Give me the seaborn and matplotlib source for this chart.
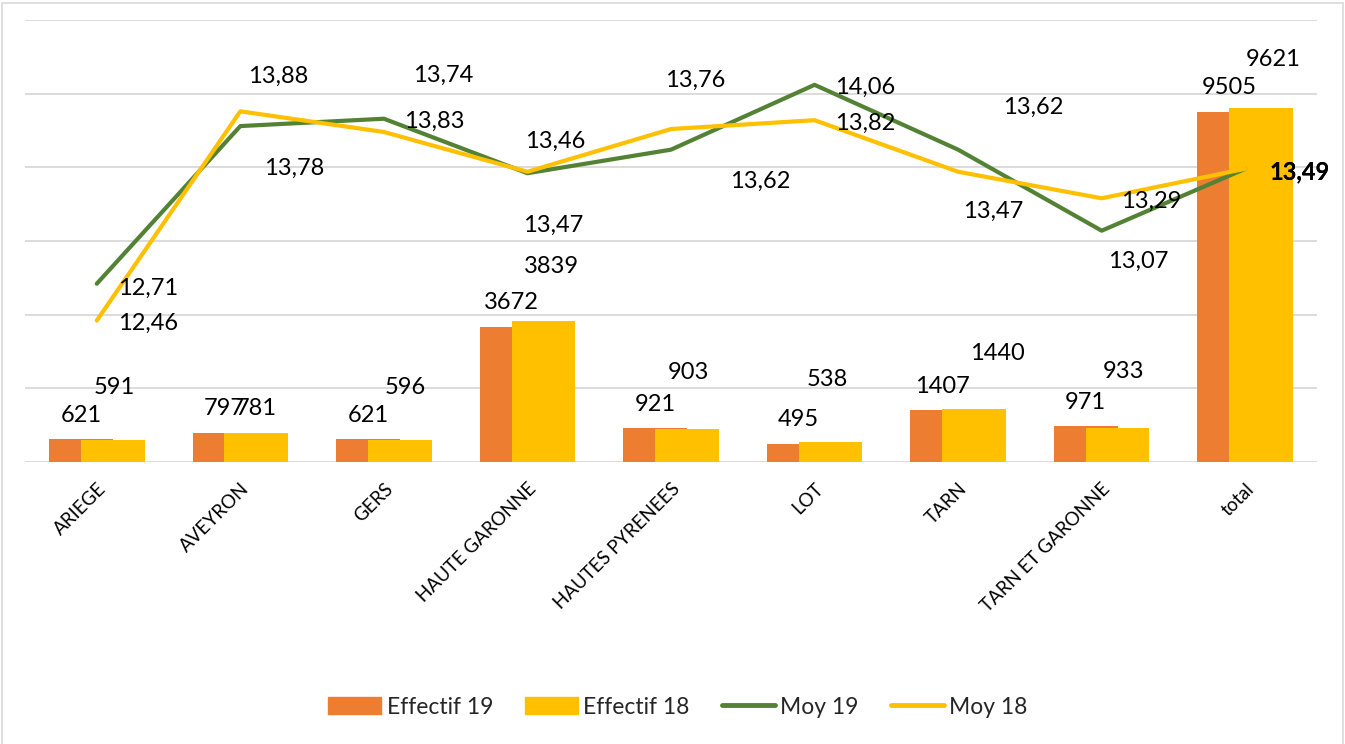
import numpy as np
import pandas as pd
import matplotlib.pyplot as plt
import seaborn as sns
from matplotlib.patches import Patch, Rectangle
from matplotlib.lines import Line2D

# Data
departements = ["ARIEGE", "AVEYRON", "GERS", "HAUTE GARONNE", "HAUTES PYRENEES",
                "LOT", "TARN", "TARN ET GARONNE", "total"]
effectif_19 = [621, 797, 621, 3672, 921, 495, 1407, 971, 9505]
effectif_18 = [591, 781, 596, 3839, 903, 538, 1440, 933, 9621]
moy_19 = [12.71, 13.78, 13.83, 13.46, 13.62, 14.06, 13.62, 13.07, 13.49]
moy_18 = [12.46, 13.88, 13.74, 13.47, 13.76, 13.82, 13.47, 13.29, 13.49]

# label nudges in pixels (dx right, dy down), as placed in the original
nudge_eff19 = [(0, -24)] * 9
nudge_eff18 = [(2, -53), (0, -25), (5, -53), (8, -54), (2, -56),
               (-3, -63), (23, -55), (6, -56), (12, -48)]
nudge_moy19 = [(51, 5), (54, 42), (50, 3), (28, -32), (89, 32),
               (51, 3), (75, -42), (37, 31), (54, 3)]
nudge_moy18 = [(51, 3), (38, -35), (59, -57), (26, 54), (24, -49),
               (51, 3), (35, 40), (50, 3), (54, 3)]

ORANGE, YELLOW, GREEN, GRID = "#ED7D31", "#FFC000", "#548235", "#D9D9D9"

sns.set_style("white")
plt.rcParams["font.family"] = ["Lato", "DejaVu Sans"]

n = len(departements)
bars = pd.DataFrame({
    "dep": departements * 2,
    "effectif": effectif_19 + effectif_18,
    "serie": ["Effectif 19"] * n + ["Effectif 18"] * n,
})
lines = pd.DataFrame({
    "pos": list(range(n)) * 2,
    "moy": moy_19 + moy_18,
    "serie": ["Moy 19"] * n + ["Moy 18"] * n,
})

fig = plt.figure(figsize=(13.45, 7.44), dpi=100)
ax = fig.add_axes([25 / 1345, 1 - 462 / 744, (1317 - 25) / 1345, (462 - 20) / 744])

sns.barplot(data=bars, x="dep", y="effectif", hue="serie",
            palette={"Effectif 19": ORANGE, "Effectif 18": YELLOW},
            width=0.444, saturation=1, linewidth=0, legend=False, ax=ax)
# overlapping bars like the Excel chart
for p in ax.patches:
    cx = p.get_x() + p.get_width() / 2
    p.set_width(0.444)
    p.set_x(cx - 0.222)

ax.set_ylim(0, 12000)
ax.set_yticks(np.arange(0, 12001, 2000))
ax.set_yticklabels([])
ax.grid(axis="y", color=GRID, lw=1.3)
ax.set_axisbelow(True)
for s in ax.spines.values():
    s.set_visible(False)
ax.set_xlabel("")
ax.set_ylabel("")

px = 72 / 100
for cont, nudges in zip(ax.containers, [nudge_eff19, nudge_eff18]):
    for bar, (dx, dy) in zip(cont, nudges):
        ax.annotate(f"{int(bar.get_height())}",
                    (bar.get_x() + bar.get_width() / 2, bar.get_height()),
                    xytext=(dx * px, -dy * px), textcoords="offset points",
                    ha="center", va="center", fontsize=17, color="black")

ax2 = ax.twinx()
sns.lineplot(data=lines, x="pos", y="moy", hue="serie",
             palette={"Moy 19": GREEN, "Moy 18": YELLOW},
             lw=3, solid_capstyle="round", legend=False, ax=ax2)
ax2.set_ylim(11.5, 14.5)
ax2.set_yticks([])
ax2.set_ylabel("")
for s in ax2.spines.values():
    s.set_visible(False)

for vals, nudges in [(moy_19, nudge_moy19), (moy_18, nudge_moy18)]:
    for i, (v, (dx, dy)) in enumerate(zip(vals, nudges)):
        ax2.annotate(f"{v:.2f}".replace(".", ","), (i, v),
                     xytext=(dx * px, -dy * px), textcoords="offset points",
                     ha="center", va="center", fontsize=17, color="black",
                     fontweight="bold" if i == n - 1 else "normal")

ax.set_xlim(-0.5, n - 0.5)
ax.set_xticks(range(n))
ax.set_xticklabels(departements, rotation=45, ha="right", va="top",
                   rotation_mode="anchor", fontsize=13.5, color="black")
ax.tick_params(axis="x", length=0, pad=13)
ax.tick_params(axis="y", length=0)

handles = [Patch(color=ORANGE), Patch(color=YELLOW),
           Line2D([], [], color=GREEN, lw=3.5, solid_capstyle="round"),
           Line2D([], [], color=YELLOW, lw=3.5, solid_capstyle="round")]
fig.legend(handles, ["Effectif 19", "Effectif 18", "Moy 19", "Moy 18"],
           loc="center", bbox_to_anchor=(0.504, 1 - 707 / 744), ncol=4,
           frameon=False, fontsize=16.5, handlelength=2.3, handleheight=0.7,
           handletextpad=0.25, columnspacing=1.4)

fig.patches.append(Rectangle((2 / 1345, -0.01), 1341 / 1345, 1 - 3 / 744 + 0.01,
                             transform=fig.transFigure, fill=False,
                             edgecolor=GRID, lw=1.2))

fig.savefig("out.png", dpi=100)
